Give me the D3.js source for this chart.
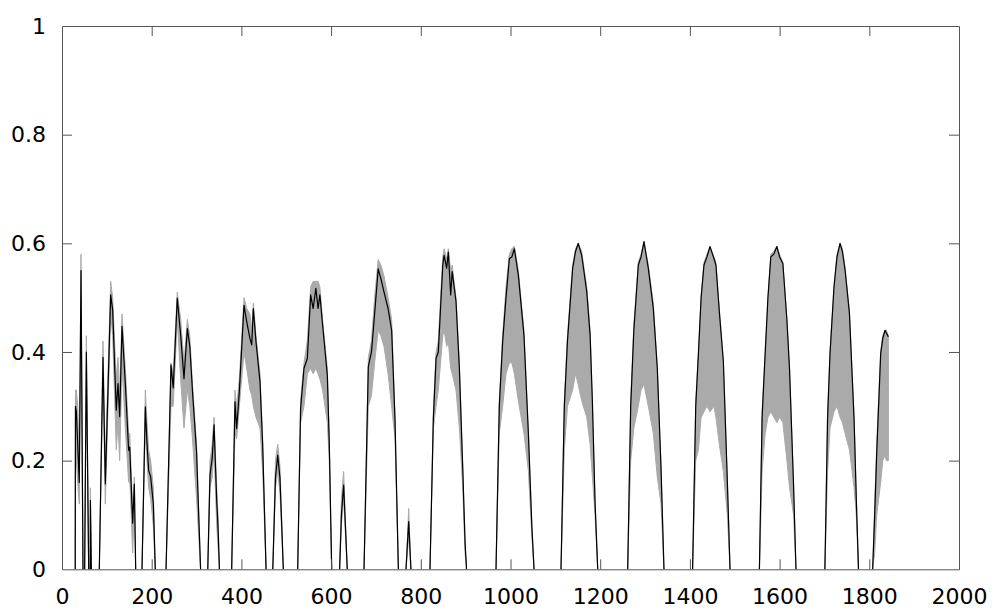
<!DOCTYPE html>
<html>
<head>
<meta charset="utf-8">
<script src="https://cdn.jsdelivr.net/npm/d3@7"></script>
<style>
  body { margin: 0; background: #fff; }
  svg { display: block; }
  .tick text { font-family: "DejaVu Sans", sans-serif; font-size: 22px; fill: #000; }
</style>
</head>
<body>
<div id="chart"></div>
<script>
// day index along x, null = break between arches
let days = [
  29.5, 30, 32, 35, 38.5, 42.4, 46.8, null,
  50.5, 54.3, 59.5, null,
  63, 63.3, 65.4, null,
  83.2, 91.4, 96.6, 108.5, 113, 121, 124.9, 128.6, 133.8, 141.2, 148.6, 151, 157.6, 161.3, 164.3, null,
  178.4, 185.8, 189.5, 193.2, 197.7, 203.6, 208, null,
  232, 243, 248, 257, 264.6, 272, 279.5, 285, 291, 300, 309, null,
  325, 330, 335, 339, 345, 348, 351, null,
  378.3, 385.7, 389.4, 395.4, 405.8, 411.8, 419, 423, 426.6, 432.5, 441.5, 447.4, 455, null,
  470, 476, 481, 486, 493.5, null,
  525.5, 532, 539.6, 547, 554.4, 560, 566, 571, 575, 581, 591.6, 596, 601.3, null,
  619, 623, 628, 636, null,
  673.4, 683, 690, 697, 705, 711, 718, 727, 735, 742.5, 750, null,
  767, 773, 778, null,
  820.5, 828, 834, 839, 849, 852, 857.7, 861.4, 866.6, 870, 878.5, 886, 893.5, 898.6, 902, null,
  967.7, 975, 982.5, 990, 997.5, 1003, 1008.6, 1017.5, 1030, 1040, 1047.5, 1052.5, null,
  1112.6, 1120, 1127, 1138.6, 1145, 1151, 1158.7, 1170, 1177.5, 1182.6, 1188.5, 1194.5, null,
  1261.3, 1268, 1275, 1285, 1291, 1297.6, 1307.3, 1318.4, 1327.3, 1335.6, 1342.2, null,
  1406, 1413, 1419, 1425, 1431.4, 1438, 1444.8, 1453.7, 1458, 1465.6, 1474.6, 1483.5, 1489.5, null,
  1555, 1561, 1567.8, 1574, 1580.4, 1587, 1593.9, 1600, 1607.3, 1616.3, 1622.2, 1631.2, 1636.5, null,
  1701, 1707, 1712.4, 1721.3, 1728, 1734.8, 1740, 1746, 1755.7, 1766.1, 1771, 1775.9, null,
  1807.5, 1812, 1816.5, 1825.4, 1830, 1835.1, 1838, 1842.5
];

// black line
let observed = [
  0, 0.30, 0.29, 0.23, 0.16, 0.55, 0, null,
  0, 0.40, 0, null,
  0, 0.127, 0, null,
  0, 0.39, 0.157, 0.505, 0.477, 0.293, 0.342, 0.281, 0.447, 0.342, 0.219, 0.225, 0.085, 0.157, 0, null,
  0, 0.299, 0.232, 0.182, 0.170, 0.121, 0, null,
  0, 0.376, 0.334, 0.499, 0.431, 0.351, 0.443, 0.41, 0.327, 0.216, 0, null,
  0, 0.174, 0.205, 0.266, 0.125, 0.076, 0, null,
  0, 0.308, 0.259, 0.327, 0.486, 0.456, 0.425, 0.413, 0.48, 0.419, 0.345, 0.229, 0, null,
  0, 0.17, 0.21, 0.168, 0, null,
  0, 0.296, 0.37, 0.388, 0.505, 0.48, 0.517, 0.48, 0.505, 0.45, 0.357, 0.229, 0, null,
  0, 0.10, 0.155, 0, null,
  0, 0.373, 0.40, 0.47, 0.553, 0.535, 0.51, 0.48, 0.44, 0.275, 0, null,
  0, 0.088, 0, null,
  0, 0.278, 0.388, 0.40, 0.56, 0.578, 0.554, 0.584, 0.505, 0.548, 0.493, 0.37, 0.186, 0.051, 0, null,
  0, 0.30, 0.419, 0.50, 0.572, 0.575, 0.59, 0.541, 0.431, 0.247, 0.081, 0, null,
  0, 0.30, 0.42, 0.554, 0.585, 0.60, 0.578, 0.511, 0.431, 0.308, 0.124, 0, null,
  0, 0.30, 0.44, 0.56, 0.575, 0.603, 0.554, 0.48, 0.37, 0.186, 0, null,
  0, 0.30, 0.397, 0.50, 0.56, 0.575, 0.594, 0.572, 0.56, 0.474, 0.382, 0.161, 0, null,
  0, 0.28, 0.397, 0.50, 0.575, 0.58, 0.594, 0.575, 0.563, 0.459, 0.367, 0.152, 0, null,
  0, 0.28, 0.397, 0.52, 0.575, 0.60, 0.585, 0.551, 0.471, 0.275, 0.13, 0, null,
  0, 0.10, 0.213, 0.397, 0.425, 0.44, 0.435, 0.428
];

// grey ensemble, lower edge
let ensLow = [
  0, 0.22, 0.20, 0.16, 0.12, 0.50, 0, null,
  0, 0.37, 0, null,
  0, 0.10, 0, null,
  0, 0.36, 0.12, 0.47, 0.43, 0.22, 0.27, 0.20, 0.38, 0.26, 0.16, 0.17, 0.03, 0.12, 0, null,
  0, 0.27, 0.20, 0.15, 0.13, 0.08, 0, null,
  0, 0.30, 0.30, 0.46, 0.35, 0.26, 0.33, 0.30, 0.24, 0.13, 0, null,
  0, 0.15, 0.17, 0.22, 0.08, 0.04, 0, null,
  0, 0.25, 0.24, 0.30, 0.40, 0.37, 0.33, 0.32, 0.30, 0.28, 0.26, 0.18, 0, null,
  0, 0.15, 0.18, 0.14, 0, null,
  0, 0.27, 0.30, 0.36, 0.37, 0.36, 0.37, 0.36, 0.35, 0.33, 0.27, 0.20, 0, null,
  0, 0.08, 0.13, 0, null,
  0, 0.30, 0.32, 0.38, 0.44, 0.43, 0.41, 0.36, 0.30, 0.24, 0, null,
  0, 0.06, 0, null,
  0, 0.26, 0.30, 0.33, 0.43, 0.44, 0.41, 0.42, 0.37, 0.36, 0.33, 0.26, 0.15, 0.03, 0, null,
  0, 0.25, 0.30, 0.36, 0.38, 0.38, 0.36, 0.31, 0.25, 0.18, 0.06, 0, null,
  0, 0.22, 0.30, 0.33, 0.36, 0.34, 0.31, 0.28, 0.23, 0.17, 0.10, 0, null,
  0, 0.20, 0.26, 0.30, 0.33, 0.34, 0.30, 0.25, 0.17, 0.12, 0, null,
  0, 0.20, 0.22, 0.28, 0.29, 0.30, 0.29, 0.30, 0.28, 0.23, 0.18, 0.10, 0, null,
  0, 0.18, 0.25, 0.28, 0.29, 0.28, 0.27, 0.28, 0.27, 0.20, 0.15, 0.10, 0, null,
  0, 0.18, 0.26, 0.29, 0.30, 0.28, 0.27, 0.25, 0.22, 0.15, 0.10, 0, null,
  0, 0.03, 0.10, 0.16, 0.20, 0.21, 0.20, 0.20
];

// grey ensemble, upper edge
let ensHigh = [
  0, 0.33, 0.33, 0.30, 0.20, 0.58, 0, null,
  0, 0.43, 0, null,
  0, 0.15, 0, null,
  0, 0.42, 0.19, 0.53, 0.50, 0.35, 0.39, 0.32, 0.47, 0.37, 0.25, 0.25, 0.11, 0.17, 0, null,
  0, 0.33, 0.27, 0.22, 0.20, 0.15, 0, null,
  0, 0.38, 0.36, 0.51, 0.46, 0.38, 0.46, 0.43, 0.34, 0.23, 0, null,
  0, 0.20, 0.23, 0.28, 0.15, 0.10, 0, null,
  0, 0.33, 0.30, 0.35, 0.50, 0.48, 0.47, 0.44, 0.49, 0.43, 0.36, 0.24, 0, null,
  0, 0.20, 0.23, 0.19, 0, null,
  0, 0.31, 0.38, 0.42, 0.52, 0.53, 0.53, 0.53, 0.52, 0.46, 0.37, 0.24, 0, null,
  0, 0.13, 0.18, 0, null,
  0, 0.39, 0.42, 0.50, 0.57, 0.56, 0.54, 0.50, 0.46, 0.28, 0, null,
  0, 0.112, 0, null,
  0, 0.29, 0.40, 0.42, 0.575, 0.59, 0.57, 0.59, 0.55, 0.56, 0.50, 0.38, 0.19, 0.05, 0, null,
  0, 0.31, 0.43, 0.52, 0.58, 0.59, 0.595, 0.55, 0.44, 0.25, 0.085, 0, null,
  0, 0.31, 0.43, 0.56, 0.59, 0.60, 0.585, 0.52, 0.44, 0.31, 0.125, 0, null,
  0, 0.31, 0.45, 0.565, 0.58, 0.603, 0.56, 0.49, 0.375, 0.19, 0, null,
  0, 0.31, 0.40, 0.50, 0.565, 0.58, 0.594, 0.575, 0.565, 0.48, 0.385, 0.165, 0, null,
  0, 0.29, 0.40, 0.50, 0.58, 0.585, 0.594, 0.58, 0.565, 0.46, 0.37, 0.155, 0, null,
  0, 0.29, 0.40, 0.52, 0.58, 0.60, 0.59, 0.555, 0.475, 0.28, 0.135, 0, null,
  0, 0.12, 0.23, 0.40, 0.43, 0.44, 0.44, 0.43
];

let xTicks = [0, 200, 400, 600, 800, 1000, 1200, 1400, 1600, 1800, 2000];
let yTicks = [0, 0.2, 0.4, 0.6, 0.8, 1];

let data = days.map((d, i) => ({x: d, y: observed[i], lo: ensLow[i], hi: ensHigh[i]}));

// plot box
let margin = {top: 26, right: 41, bottom: 46.7, left: 62},
    width = 1000 - margin.left - margin.right,
    height = 616 - margin.top - margin.bottom;

let svg = d3.select("#chart")
  .append("svg")
    .attr("width", 1000)
    .attr("height", 616)
  .append("g")
    .attr("transform", "translate(" + margin.left + "," + margin.top + ")");

let x = d3.scaleLinear().domain([0, 2000]).range([0, width]);
let y = d3.scaleLinear().domain([0, 1]).range([height, 0]);

// grey ensemble band
svg.append("path")
  .datum(data)
  .attr("fill", "#aaaaaa")
  .attr("stroke", "#aaaaaa")
  .attr("stroke-width", 1)
  .attr("d", d3.area()
    .defined(d => d.x !== null)
    .x(d => x(d.x))
    .y0(d => y(d.lo))
    .y1(d => y(d.hi)));

// observed line
svg.append("path")
  .datum(data)
  .attr("fill", "none")
  .attr("stroke", "#000")
  .attr("stroke-width", 1.2)
  .attr("stroke-linejoin", "round")
  .attr("d", d3.line()
    .defined(d => d.x !== null)
    .x(d => x(d.x))
    .y(d => y(d.y)));

// axes, ticks pointing inward on all four sides
let frameColor = "#555";

let axisBottomG = svg.append("g")
  .attr("transform", "translate(0," + height + ")")
  .call(d3.axisBottom(x).tickValues(xTicks).tickFormat(d3.format("d"))
    .tickSizeInner(-10).tickSizeOuter(0).tickPadding(19));

let axisLeftG = svg.append("g")
  .call(d3.axisLeft(y).tickValues(yTicks).tickFormat(d => d3.format("")(d))
    .tickSizeInner(-10).tickSizeOuter(0).tickPadding(16));

let axisTopG = svg.append("g")
  .call(d3.axisTop(x).tickValues(xTicks).tickFormat("")
    .tickSizeInner(-10).tickSizeOuter(0));

let axisRightG = svg.append("g")
  .attr("transform", "translate(" + width + ",0)")
  .call(d3.axisRight(y).tickValues(yTicks).tickFormat("")
    .tickSizeInner(-10).tickSizeOuter(0));

[axisBottomG, axisLeftG, axisTopG, axisRightG].forEach(g => {
  g.selectAll(".domain").attr("stroke", frameColor);
  g.selectAll(".tick line").attr("stroke", frameColor);
  g.attr("font-family", null).attr("font-size", null);
});

// drop the mirrored ticks that sit on the corners
axisTopG.selectAll(".tick").filter(d => d === 0 || d === 2000).remove();
axisRightG.selectAll(".tick").filter(d => d === 0 || d === 1).remove();
axisBottomG.selectAll(".tick line").filter(d => d === 0 || d === 2000).remove();
axisLeftG.selectAll(".tick line").filter(d => d === 0 || d === 1).remove();
</script>
</body>
</html>
